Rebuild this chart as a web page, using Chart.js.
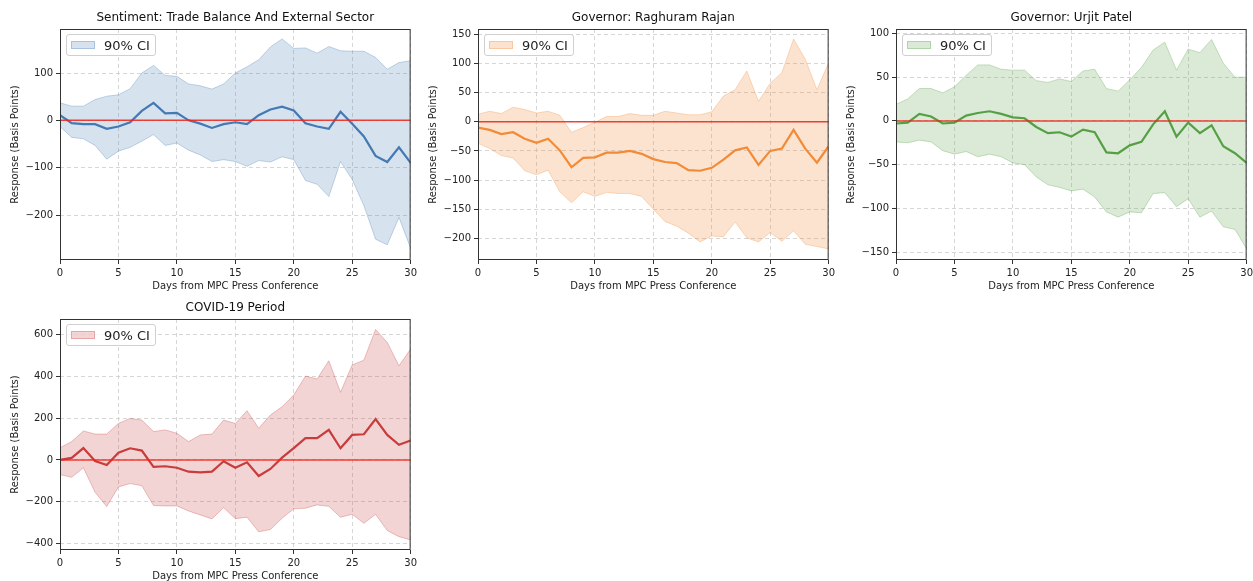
<!DOCTYPE html>
<html>
<head>
<meta charset="utf-8">
<script src="https://cdn.jsdelivr.net/npm/chart.js@4.4.0/dist/chart.umd.min.js"></script>
<style>
  body { margin: 0; background: #fff; overflow: hidden; }
  #wrap { position: relative; width: 1253px; height: 581px; overflow: hidden; }
  .panel { position: absolute; width: 420px; height: 295px; }
  .legend {
    position: absolute; left: 66px; top: 34px; height: 20px;
    padding: 0 5px 0 4px; border: 1px solid #d0d0d0; border-radius: 3px;
    background: rgba(255, 255, 255, 0.8); color: #222;
    font: 13px "DejaVu Sans"; display: flex; align-items: center;
  }
  .swatch { width: 24px; height: 8px; margin-right: 9px; box-sizing: border-box; }
</style>
</head>
<body>
<div id="wrap">
  <div class="panel" style="left:0;top:0"><canvas id="tradeChart" width="420" height="295"></canvas>
    <div class="legend"><span class="swatch" id="tradeSwatch"></span>90% CI</div></div>
  <div class="panel" style="left:418px;top:0"><canvas id="rajanChart" width="420" height="295"></canvas>
    <div class="legend"><span class="swatch" id="rajanSwatch"></span>90% CI</div></div>
  <div class="panel" style="left:836px;top:0"><canvas id="patelChart" width="420" height="295"></canvas>
    <div class="legend"><span class="swatch" id="patelSwatch"></span>90% CI</div></div>
  <div class="panel" style="left:0;top:290px"><canvas id="covidChart" width="420" height="295"></canvas>
    <div class="legend"><span class="swatch" id="covidSwatch"></span>90% CI</div></div>
</div>
<script>
const days = [0, 1, 2, 3, 4, 5, 6, 7, 8, 9, 10, 11, 12, 13, 14, 15, 16, 17, 18, 19, 20, 21, 22, 23, 24, 25, 26, 27, 28, 29, 30];

const tradeMean = [11, -6, -8, -8, -18, -13, -4, 20, 37, 15, 16, 0, -7, -16, -8, -4, -8, 11, 23, 29, 21, -6, -13, -18, 18, -7, -34, -75, -88, -57, -90];
const tradeUpper = [37, 30, 30, 44, 51, 54, 67, 100, 116, 95, 93, 77, 73, 66, 77, 100, 113, 128, 155, 172, 152, 153, 142, 156, 147, 146, 146, 133, 108, 122, 126];
const tradeLower = [-13, -36, -39, -53, -82, -65, -57, -44, -30, -53, -48, -63, -73, -87, -83, -87, -97, -85, -88, -77, -83, -127, -135, -161, -87, -125, -180, -251, -263, -205, -270];

const rajanMean = [-10, -14, -21, -18, -29, -36, -29, -49, -78, -62, -61, -53, -53, -50, -55, -64, -69, -71, -83, -84, -79, -65, -49, -44, -74, -50, -46, -14, -46, -70, -42];
const rajanUpper = [13, 18, 14, 25, 21, 15, 18, 11, -18, -10, -1, 9, 9, 14, 11, 11, 18, 15, 12, 12, 17, 44, 55, 87, 35, 66, 84, 142, 107, 55, 101];
const rajanLower = [-37, -46, -58, -62, -84, -91, -83, -120, -139, -120, -128, -121, -123, -123, -128, -150, -171, -179, -191, -206, -196, -197, -172, -199, -206, -190, -205, -187, -210, -214, -218];

const patelMean = [-3, -2, 8, 5, -3, -2, 6, 9, 11, 8, 4, 3, -7, -14, -13, -18, -10, -13, -36, -37, -28, -24, -4, 11, -18, -2, -14, -5, -29, -37, -48];
const patelUpper = [19, 25, 37, 37, 32, 39, 52, 64, 64, 59, 58, 58, 46, 44, 48, 45, 57, 59, 37, 34, 47, 61, 81, 90, 58, 82, 78, 93, 66, 50, 50];
const patelLower = [-24, -25, -22, -24, -34, -38, -35, -41, -38, -41, -48, -50, -64, -73, -76, -80, -78, -87, -104, -110, -104, -105, -83, -82, -98, -89, -110, -103, -121, -124, -146];

const covidMean = [0, 10, 57, -5, -24, 35, 56, 45, -33, -30, -37, -56, -59, -56, -6, -37, -11, -77, -43, 11, 57, 105, 105, 144, 56, 120, 123, 196, 120, 73, 93];
const covidUpper = [59, 88, 139, 124, 124, 175, 199, 191, 136, 144, 128, 88, 120, 124, 191, 175, 236, 152, 215, 255, 311, 402, 388, 475, 324, 455, 478, 625, 563, 451, 531];
const covidLower = [-70, -83, -37, -155, -223, -129, -113, -123, -218, -220, -220, -244, -263, -282, -228, -281, -274, -344, -333, -279, -234, -231, -215, -222, -274, -260, -303, -260, -338, -367, -383];

const font = { family: 'DejaVu Sans', size: 10 };

// box round the plot, like matplotlib spines
const frame = {
  id: 'frame',
  afterDraw(chart) {
    const { ctx, chartArea } = chart;
    ctx.save();
    ctx.strokeStyle = '#333';
    ctx.lineWidth = 1;
    ctx.strokeRect(chartArea.left + 0.5, chartArea.top + 0.5, chartArea.right - chartArea.left - 1, chartArea.bottom - chartArea.top - 1);
    ctx.restore();
  }
};

// title centred over the plot area instead of the whole canvas
const plotTitle = {
  id: 'plotTitle',
  afterDraw(chart, args, opts) {
    const { ctx, chartArea } = chart;
    ctx.save();
    ctx.font = '12px "DejaVu Sans"';
    ctx.fillStyle = '#111';
    ctx.textAlign = 'center';
    ctx.textBaseline = 'middle';
    ctx.fillText(opts.text, (chartArea.left + chartArea.right) / 2, chartArea.top - 11.5);
    ctx.restore();
  }
};

function points(values) {
  return days.map((d, i) => ({ x: d, y: values[i] }));
}

function minus(value) {
  return String(value).replace('-', '\u2212');
}

function makePanel(id, title, mean, upper, lower, yMin, yMax, yStep, lineColor, fillColor, edgeColor) {
  const el = document.getElementById(id + 'Chart');
  document.getElementById(id + 'Swatch').style.background = fillColor;
  document.getElementById(id + 'Swatch').style.border = '1px solid ' + edgeColor;

  return new Chart(el, {
    type: 'line',
    data: {
      datasets: [
        {
          label: 'zero',
          data: [{ x: days[0], y: 0 }, { x: days[days.length - 1], y: 0 }],
          borderColor: 'rgba(240, 35, 25, 0.85)',
          borderWidth: 1.5,
          pointRadius: 0,
          fill: false,
        },
        {
          label: 'IRF',
          data: points(mean),
          borderColor: lineColor,
          borderWidth: 2.2,
          pointRadius: 0,
          tension: 0,
          fill: false,
        },
        {
          label: 'upper',
          data: points(upper),
          borderColor: edgeColor,
          borderWidth: 1,
          pointRadius: 0,
          fill: false,
        },
        {
          label: '90% CI',
          data: points(lower),
          borderColor: edgeColor,
          borderWidth: 1,
          backgroundColor: fillColor,
          pointRadius: 0,
          fill: '-1',
        }
      ],
    },
    options: {
      responsive: false,
      animation: false,
      layout: { padding: { left: 0, right: 8, top: 29, bottom: 0 } },
      scales: {
        x: {
          type: 'linear',
          min: 0,
          max: 30,
          ticks: { stepSize: 5, padding: 3, color: '#222', font: font, maxRotation: 0 },
          grid: { color: '#cccccc', lineWidth: 0.8, tickLength: 4, tickColor: '#333', tickWidth: 1 },
          border: { display: false, dash: [4, 3] },
          title: { display: true, text: 'Days from MPC Press Conference', color: '#222', font: font, padding: { top: 0, bottom: 3 } },
          afterFit: (s) => { s.height = 35; }
        },
        y: {
          min: yMin,
          max: yMax,
          ticks: { stepSize: yStep, includeBounds: false, padding: 3, color: '#222', font: font, callback: minus },
          grid: { color: '#cccccc', lineWidth: 0.8, tickLength: 4, tickColor: '#333', tickWidth: 1 },
          border: { display: false, dash: [4, 3] },
          title: { display: true, text: 'Response (Basis Points)', color: '#222', font: font, padding: { top: 9, bottom: 0 } },
          afterFit: (s) => { s.width = 60; }
        }
      },
      plugins: {
        legend: { display: false },
        tooltip: { enabled: false },
        title: { display: false },
        plotTitle: { text: title }
      }
    },
    plugins: [frame, plotTitle]
  });
}

const tradeChart = makePanel('trade', 'Sentiment: Trade Balance And External Sector', tradeMean, tradeUpper, tradeLower,
  -295, 193, 100, '#4479b3', 'rgba(68, 121, 179, 0.22)', 'rgba(68, 121, 179, 0.3)');

const rajanChart = makePanel('rajan', 'Governor: Raghuram Rajan', rajanMean, rajanUpper, rajanLower,
  -237, 159, 50, '#f28a36', 'rgba(242, 138, 54, 0.24)', 'rgba(242, 138, 54, 0.3)');

const patelChart = makePanel('patel', 'Governor: Urjit Patel', patelMean, patelUpper, patelLower,
  -159, 105, 50, '#55a045', 'rgba(85, 160, 69, 0.22)', 'rgba(85, 160, 69, 0.3)');

const covidChart = makePanel('covid', 'COVID-19 Period', covidMean, covidUpper, covidLower,
  -431, 675, 200, '#c83c3c', 'rgba(200, 60, 60, 0.22)', 'rgba(200, 60, 60, 0.3)');
</script>
</body>
</html>
